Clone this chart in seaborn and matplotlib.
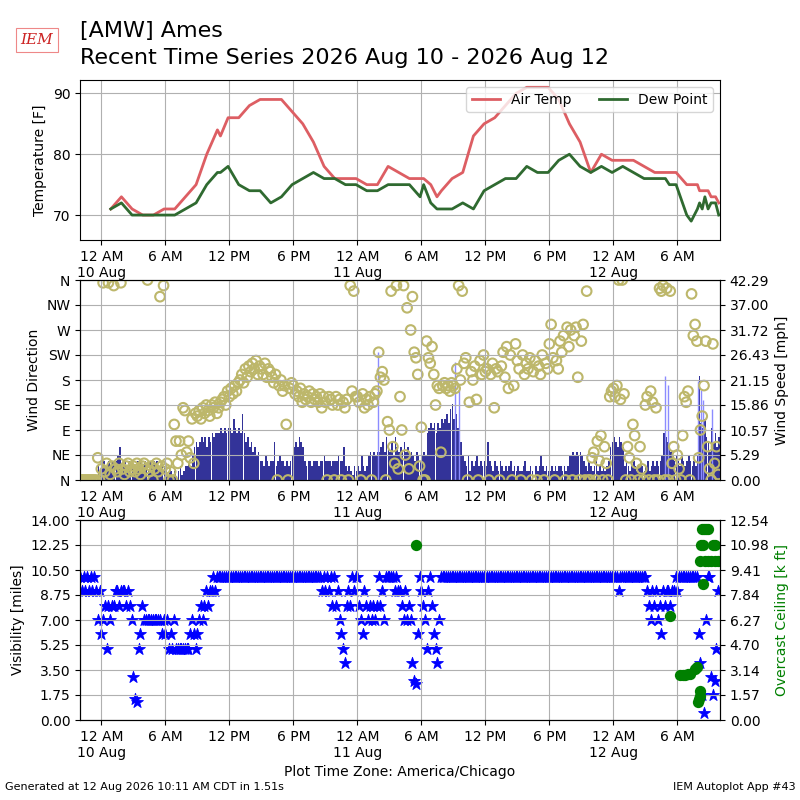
import matplotlib
matplotlib.use("Agg")
import matplotlib.pyplot as plt
import numpy as np
import pandas as pd
import seaborn as sns

# ---- hourly / special observations (local time) ----
obs_times = [
    "08-10 00:53", "08-10 01:53", "08-10 02:53", "08-10 03:53", "08-10 04:53", "08-10 05:53",
    "08-10 06:53", "08-10 07:53", "08-10 08:53", "08-10 09:53", "08-10 10:53", "08-10 11:10",
    "08-10 11:53", "08-10 12:53", "08-10 13:53", "08-10 14:53", "08-10 15:53", "08-10 16:53",
    "08-10 17:53", "08-10 18:53", "08-10 19:53", "08-10 20:53", "08-10 21:53", "08-10 22:53",
    "08-10 23:53",
    "08-11 00:53", "08-11 01:53", "08-11 02:53", "08-11 03:53", "08-11 04:53", "08-11 05:53",
    "08-11 06:13", "08-11 06:53", "08-11 07:28", "08-11 07:53", "08-11 08:53", "08-11 09:53",
    "08-11 10:53", "08-11 11:53", "08-11 12:53", "08-11 13:53", "08-11 14:53", "08-11 15:53",
    "08-11 16:53", "08-11 17:53", "08-11 18:53", "08-11 19:53", "08-11 20:53", "08-11 21:53",
    "08-11 22:53", "08-11 23:53",
    "08-12 00:53", "08-12 01:53", "08-12 02:53", "08-12 03:53", "08-12 04:53", "08-12 05:15",
    "08-12 05:53", "08-12 06:53", "08-12 07:18", "08-12 07:53", "08-12 08:05", "08-12 08:20",
    "08-12 08:35", "08-12 08:53", "08-12 09:10", "08-12 09:35", "08-12 09:53",
]
air_temp = [
    71, 73, 71, 70, 70, 71,
    71, 73, 75, 80, 84, 83,
    86, 86, 88, 89, 89, 89,
    87, 85, 82, 78, 76, 76,
    76,
    75, 75, 78, 77, 76, 76,
    76, 75, 73, 74, 76, 77,
    83, 85, 86, 88, 90, 91,
    91, 91, 89, 85, 82, 77,
    80, 79,
    79, 79, 78, 77, 77, 77,
    77, 75, 75, 75, 74, 74,
    74, 74, 73, 73, 72,
]
dew_point = [
    71, 72, 70, 70, 70, 70,
    70, 71, 72, 75, 77, 77,
    78, 75, 74, 74, 72, 73,
    75, 76, 77, 76, 76, 75,
    75,
    74, 74, 75, 75, 75, 73,
    75, 72, 71, 71, 71, 72,
    71, 74, 75, 76, 76, 78,
    77, 77, 79, 80, 78, 77,
    78, 77,
    78, 77, 76, 76, 76, 75,
    75, 70, 69, 71, 72, 71,
    73, 71, 72, 72, 70,
]

# ---- 10 minute samples starting 9 Aug 22:00, one row per hour ----
wind_speed = [
    0, 0, 0, 0, 1, 0,        # 9 Aug 22
    0, 0, 1, 0, 3, 2,        # 23
    3, 4, 2, 3, 4, 3,        # 10 Aug 00
    4, 3, 4, 5, 7, 3,
    3, 4, 2, 4, 3, 4,
    3, 2, 4, 3, 4, 3,
    4, 3, 2, 4, 3, 4,
    3, 4, 2, 3, 4, 3,
    2, 1, 3, 2, 1, 2,
    0, 2, 3, 1, 2, 3,
    3, 4, 3, 5, 7, 8,
    7, 8, 9, 8, 9, 7,
    9, 8, 10, 9, 10, 10,
    10, 11, 10, 11, 10, 11,
    11, 10, 13, 11, 10, 11,  # 12
    10, 14, 10, 8, 9, 7,
    8, 6, 7, 5, 6, 4,
    4, 3, 5, 4, 3, 4,
    4, 8, 3, 4, 5, 4,
    4, 3, 4, 3, 4, 5,
    7, 8, 7, 9, 8, 7,
    4, 3, 4, 4, 3, 4,
    4, 4, 3, 4, 4, 5,
    4, 4, 4, 3, 4, 4,
    4, 5, 4, 4, 7, 3,
    2, 3, 2, 1, 3, 2,
    3, 2, 5, 3, 2, 3,        # 11 Aug 00
    5, 6, 5, 6, 5, 6,
    6, 7, 8, 6, 9, 7,
    6, 8, 5, 9, 7, 6,
    7, 6, 8, 6, 7, 5,
    6, 5, 4, 6, 5, 4,
    5, 6, 5, 10, 11, 12,
    11, 12, 10, 12, 11, 13,
    12, 13, 14, 12, 15, 16,
    13, 14, 11, 15, 8, 5,
    4, 3, 5, 2, 4, 3,
    4, 5, 3, 4, 3, 4,
    3, 8, 4, 3, 2, 4,        # 12
    3, 2, 4, 3, 2, 3,
    2, 3, 4, 2, 3, 2,
    3, 2, 2, 3, 4, 2,
    2, 3, 2, 0, 3, 2,
    3, 5, 3, 2, 3, 2,
    2, 3, 2, 3, 2, 3,
    3, 2, 3, 2, 3, 5,
    5, 6, 5, 6, 5, 6,
    5, 4, 3, 2, 4, 3,
    2, 3, 4, 2, 3, 2,
    3, 2, 3, 4, 7, 8,
    9, 8, 7, 9, 8, 7,        # 12 Aug 00
    3, 4, 3, 2, 3, 4,
    3, 2, 3, 4, 3, 2,
    3, 4, 2, 3, 4, 3,
    4, 3, 4, 5, 10, 9,
    8, 7, 6, 5, 4, 5,
    4, 3, 5, 4, 3, 4,
    5, 4, 3, 4, 3, 5,
    22, 12, 11, 13, 9, 8,
    6, 11, 8, 10, 7, 9,
]
wind_dir = [
    0, 0, 0, 0, 0, 0,
    0, 0, 0, 0, 40, 0,
    20, 355, 15, 30, 355, 10,
    25, 350, 20, 15, 30, 355,
    20, 10, 25, 30, 15, 20,
    25, 15, 30, 20, 10, 25,
    30, 20, 360, 15, 25, 0,
    20, 30, 15, 330, 25, 350,
    20, 30, 0, 15, 0, 100,
    70, 30, 70, 45, 130, 125,
    50, 70, 40, 110, 30, 120,
    115, 125, 110, 130, 120, 135,
    125, 115, 135, 130, 140, 120,
    130, 140, 145, 150, 135, 160,
    150, 165, 155, 170, 160, 175,
    180, 190, 175, 200, 185, 205,
    195, 210, 200, 215, 190, 205,
    200, 190, 210, 185, 200, 195,
    185, 175, 190, 0, 170, 180,
    160, 170, 100, 0, 165, 175,
    170, 155, 160, 150, 165, 140,
    155, 145, 150, 160, 140, 155,
    145, 150, 140, 155, 130, 150,
    140, 0, 150, 145, 135, 0,
    150, 135, 145, 0, 140, 130,
    145, 0, 350, 160, 340, 150,
    150, 140, 0, 155, 130, 145,
    135, 150, 0, 140, 155, 160,
    230, 185, 195, 180, 0, 105,
    90, 340, 60, 30, 350, 20,
    150, 90, 350, 45, 310, 20,
    270, 330, 230, 220, 190, 25,
    95, 0, 0, 250, 220, 210,
    240, 190, 135, 170, 165, 50,
    170, 175, 165, 170, 160, 175,
    170, 165, 200, 350, 180, 340,
    210, 220, 0, 140, 195, 180,
    205, 145, 0, 215, 190, 225,
    195, 200, 0, 190, 210, 130,
    200, 195, 0, 205, 230, 185,
    240, 165, 225, 0, 170, 245,
    215, 200, 0, 225, 190, 210,
    200, 220, 0, 195, 215, 0,
    205, 190, 225, 0, 210, 200,
    245, 280, 220, 0, 215, 200,
    250, 230, 260, 0, 275, 240,
    270, 0, 260, 275, 185, 0,
    250, 280, 0, 340, 0, 0,
    40, 50, 0, 70, 35, 80,
    0, 60, 30, 0, 150, 160,
    165, 150, 170, 360, 145, 360,
    155, 0, 60, 40, 0, 100,
    80, 30, 0, 60, 20, 0,
    135, 150, 0, 160, 140, 0,
    130, 0, 345, 340, 350, 0,
    345, 0, 340, 30, 60, 0,
    45, 20, 0, 80, 150, 140,
    160, 0, 335, 260, 280, 250,
    40, 90, 115, 170, 250, 60,
    20, 0, 245, 30, 60, 10,
]
visibility = [
    10, 9, 10, 9, 10, 9,
    10, 9, 10, 9, 7, 9,
    6, 7, 8, 5, 8, 7,
    8, 8, 9, 9, 8, 9,
    9, 9, 8, 9, 8, 7,
    3, 1.5, 1.25, 5, 6, 8,
    7, 7, 7, 7, 7, 7,
    7, 7, 7, 7, 6, 7,
    6, 7, 5, 6, 5, 7,
    5, 5, 5, 5, 5, 5,
    5, 5, 6, 7, 6, 5,
    6, 7, 8, 7, 8, 9,
    8, 9, 9, 10, 9, 10,
    10, 10, 10, 10, 10, 10,
    10, 10, 10, 10, 10, 10,
    10, 10, 10, 10, 10, 10,
    10, 10, 10, 10, 10, 10,
    10, 10, 10, 10, 10, 10,
    10, 10, 10, 10, 10, 10,
    10, 10, 10, 10, 10, 10,
    10, 10, 10, 10, 10, 10,
    10, 10, 10, 10, 10, 10,
    10, 10, 10, 10, 9, 10,
    9, 10, 9, 10, 8, 10,
    8, 9, 7, 6, 5, 4,
    8, 9, 8, 10, 9, 10,
    10, 8, 7, 6, 9, 8,
    7, 8, 7, 8, 7, 8,
    10, 8, 9, 7, 10, 10,
    10, 10, 10, 9, 10, 9,
    9, 8, 7, 9, 7, 8,
    7, 4, 2.75, 2.5, 6, 10,
    9, 8, 7, 5, 9, 10,
    8, 6, 5, 4, 7, 10,
    10, 10, 10, 10, 10, 10,
    10, 10, 10, 10, 10, 10,
    10, 10, 10, 10, 10, 10,
    10, 10, 10, 10, 10, 10,
    10, 10, 10, 10, 10, 10,
    10, 10, 10, 10, 10, 10,
    10, 10, 10, 10, 10, 10,
    10, 10, 10, 10, 10, 10,
    10, 10, 10, 10, 10, 10,
    10, 10, 10, 10, 10, 10,
    10, 10, 10, 10, 10, 10,
    10, 10, 10, 10, 10, 10,
    10, 10, 10, 10, 10, 10,
    10, 10, 10, 10, 10, 10,
    10, 10, 10, 10, 10, 10,
    10, 10, 10, 10, 10, 10,
    10, 10, 10, 9, 10, 10,
    10, 10, 10, 10, 10, 10,
    10, 10, 10, 10, 10, 10,
    10, 9, 8, 7, 9, 8,
    9, 7, 8, 6, 9, 8,
    9, 9, 8, 9, 9, 10,
    9, 10, 10, 10, 10, 10,
    10, 10, 10, 10, 10, 10,
    6, 4, 1.75, 0.5, 7, 10,
    10, 3, 1.75, 2.75, 5, 9,
]

# gusts (thin light bars)
gust_times = ["08-11 01:55", "08-11 09:12", "08-11 09:30", "08-12 04:48",
              "08-12 05:05", "08-12 07:57", "08-12 08:12", "08-12 08:24", "08-12 09:15"]
gust_speed = [27, 25, 19, 22, 20, 21, 19, 17, 15]

# overcast ceiling [k ft]
ceil_times = [
    "08-11 05:30", "08-12 05:20", "08-12 06:15", "08-12 06:30", "08-12 06:45",
    "08-12 07:00", "08-12 07:10", "08-12 07:40", "08-12 07:50", "08-12 07:58",
    "08-12 08:02", "08-12 08:05", "08-12 08:08", "08-12 08:10", "08-12 08:15",
    "08-12 08:20", "08-12 08:25", "08-12 08:26", "08-12 08:30", "08-12 08:35",
    "08-12 08:40", "08-12 08:50", "08-12 08:55", "08-12 09:10", "08-12 09:20",
    "08-12 09:30", "08-12 09:32", "08-12 09:50",
]
ceiling = [
    11.0, 6.5, 2.8, 2.8, 2.8,
    2.9, 2.9, 3.2, 3.3, 1.1,
    1.3, 1.5, 1.8, 10.0, 11.0,
    12.0, 11.0, 8.5, 12.0, 10.0,
    12.0, 12.0, 10.0, 10.0, 11.0,
    11.0, 10.0, 10.0,
]

dir_labels = ["N", "NE", "E", "SE", "S", "SW", "W", "NW", "N"]
tick_labels = ["12 AM\n10 Aug", "6 AM", "12 PM", "6 PM", "12 AM\n11 Aug",
               "6 AM", "12 PM", "6 PM", "12 AM\n12 Aug", "6 AM"]
speed_labels = ["0.00", "5.29", "10.57", "15.86", "21.15", "26.43", "31.72", "37.00", "42.29"]
ceil_labels = ["0.00", "1.57", "3.14", "4.70", "6.27", "7.84", "9.41", "10.98", "12.54"]
vis_labels = ["0.00", "1.75", "3.50", "5.25", "7.00", "8.75", "10.50", "12.25", "14.00"]
speed_max = 42.29
ceiling_max = 12.54
vis_max = 14.0

TEMP_COLOR = "#dd5e63"
DEW_COLOR = "#2f6a30"
BAR_COLOR = "#333399"
GUST_COLOR = "#8c8cff"


def to_dt(items):
    return pd.to_datetime(["2026-" + t for t in items])


temp_df = pd.DataFrame({"valid": to_dt(obs_times), "tmpf": air_temp, "dwpf": dew_point})
minute_df = pd.DataFrame({
    "valid": pd.date_range("2026-08-09 22:00", periods=len(wind_speed), freq="10min"),
    "sknt": wind_speed, "drct": wind_dir, "vsby": visibility,
})
ceil_df = pd.DataFrame({"valid": to_dt(ceil_times), "ceil": ceiling})

xmin = pd.Timestamp("2026-08-09 22:00")
xmax = pd.Timestamp("2026-08-12 10:00")
ticks = pd.date_range("2026-08-10 00:00", periods=len(tick_labels), freq="6h")

fig = plt.figure(figsize=(8, 8), dpi=100)
ax1 = fig.add_axes([0.1, 0.7, 0.8, 0.2])
ax2 = fig.add_axes([0.1, 0.4, 0.8, 0.25])
ax3 = fig.add_axes([0.1, 0.1, 0.8, 0.25])

# temperature panel
sns.lineplot(data=temp_df, x="valid", y="tmpf", ax=ax1, color=TEMP_COLOR, lw=2, label="Air Temp")
sns.lineplot(data=temp_df, x="valid", y="dwpf", ax=ax1, color=DEW_COLOR, lw=2, label="Dew Point")
ax1.set_ylim(65.9, 92.2)
ax1.set_yticks([70, 80, 90])
ax1.set_ylabel("Temperature [F]")
ax1.set_xlabel("")
ax1.legend(loc="upper right", ncol=2)

# wind panel
ax2s = ax2.twinx()
ax2s.vlines(to_dt(gust_times), 0, gust_speed, color=GUST_COLOR, lw=1)
ax2s.bar(minute_df["valid"], minute_df["sknt"], width=9.5 / 1440.0, align="edge",
         color=BAR_COLOR, lw=0)
ax2s.set_ylim(0, speed_max)
ax2s.set_yticks(np.linspace(0, speed_max, 9))
ax2s.set_yticklabels(speed_labels)
ax2s.set_ylabel("Wind Speed [mph]")
sns.scatterplot(data=minute_df, x="valid", y="drct", ax=ax2, marker="o", s=48,
                color="darkkhaki", facecolors="none", edgecolor="darkkhaki", linewidth=1.5)
ax2.set_zorder(ax2s.get_zorder() + 1)
ax2.patch.set_visible(False)
ax2.set_ylim(0, 360)
ax2.set_yticks(range(0, 361, 45))
ax2.set_yticklabels(dir_labels)
ax2.set_ylabel("Wind Direction")
ax2.set_xlabel("")

# visibility / ceiling panel
sns.scatterplot(data=minute_df, x="valid", y="vsby", ax=ax3, marker="*", s=80,
                color="blue", edgecolor="blue", linewidth=0.6)
ax3.set_ylim(0, vis_max)
ax3.set_yticks(np.linspace(0, vis_max, 9))
ax3.set_yticklabels(vis_labels)
ax3.set_ylabel("Visibility [miles]")
ax3.set_xlabel("Plot Time Zone: America/Chicago")
ax3s = ax3.twinx()
sns.scatterplot(data=ceil_df, x="valid", y="ceil", ax=ax3s, marker="o", s=66,
                color="green", edgecolor="green", linewidth=0)
ax3s.set_ylim(0, ceiling_max)
ax3s.set_yticks(np.linspace(0, ceiling_max, 9))
ax3s.set_yticklabels(ceil_labels)
ax3s.set_ylabel("Overcast Ceiling [k ft]", color="green")

for ax in (ax1, ax2, ax3):
    ax.set_xlim(xmin, xmax)
    ax.set_xticks(ticks)
    ax.set_xticklabels(tick_labels)
    ax.grid(True)

fig.text(0.1, 0.954, "[AMW] Ames", fontsize=16, va="baseline")
fig.text(0.1, 0.92, "Recent Time Series 2026 Aug 10 - 2026 Aug 12", fontsize=16, va="baseline")
fig.text(0.046, 0.95, "IEM", color="#cc2222", fontsize=11, fontstyle="italic",
         family="DejaVu Serif", ha="center", va="center",
         bbox=dict(boxstyle="square,pad=0.3", fc="none", ec="#ee8888", lw=0.8))
fig.text(0.006, 0.012, "Generated at 12 Aug 2026 10:11 AM CDT in 1.51s", fontsize=8)
fig.text(0.994, 0.012, "IEM Autoplot App #43", fontsize=8, ha="right")

fig.savefig("out.png", dpi=100)
